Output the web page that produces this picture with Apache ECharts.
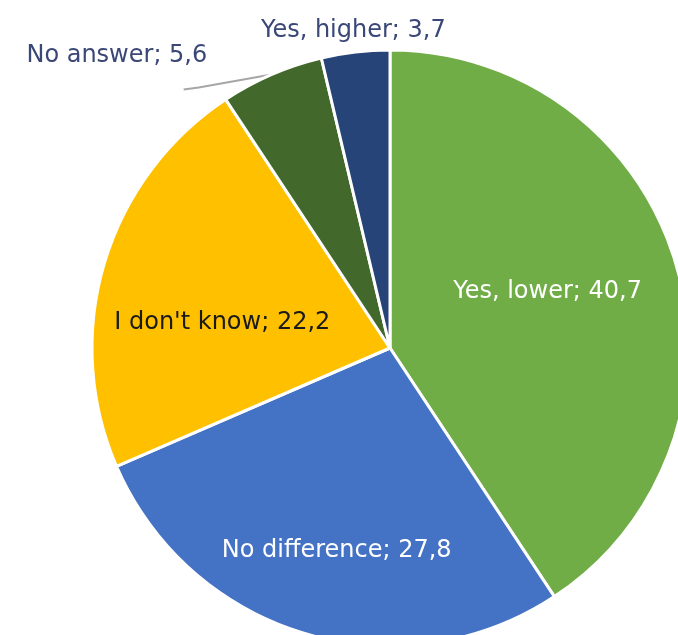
<!DOCTYPE html>
<html>
<head>
<meta charset="utf-8">
<script src="https://cdn.jsdelivr.net/npm/echarts@6/dist/echarts.min.js"></script>
<style>
  html, body { margin: 0; padding: 0; background: #fff; }
  #chart { width: 678px; height: 635px; }
</style>
</head>
<body>
<div id="chart"></div>
<script>
// answers, clockwise from 12 o'clock
const categories = ['Yes, lower', 'No difference', "I don't know", 'No answer', 'Yes, higher'];
const values = [40.7, 27.8, 22.2, 5.6, 3.7];
const colors = ['#70AD47', '#4472C4', '#FFC000', '#43682B', '#264478'];
const labelColors = ['#ffffff', '#ffffff', '#1a1a1a', '#3A4777', '#3A4777'];
const inside = [true, true, true, false, false];

const chart = echarts.init(document.getElementById('chart'));

const data = categories.map((name, i) => ({
  name,
  value: values[i],
  itemStyle: { color: colors[i] },
  label: {
    position: inside[i] ? 'inside' : 'outside',
    color: labelColors[i]
  },
  labelLine: { show: i === 3, length: 6, length2: 75, lineStyle: { color: '#a6a6a6', width: 2 } }
}));

// nudge labels a bit to where excel put them
const nudges = [[12, -12], [-10, 57], [-22, 18], [18, -13], [171, -15]];

chart.setOption({
  backgroundColor: '#fff',
  animation: false,
  series: [{
    type: 'pie',
    center: [390, 348],
    radius: 298,
    startAngle: 90,
    clockwise: true,
    avoidLabelOverlap: false,
    itemStyle: { borderColor: '#fff', borderWidth: 3 },
    label: {
      fontFamily: '"DejaVu Sans", sans-serif',
      fontSize: 24,
      formatter: p => p.name + '; ' + String(p.value).replace('.', ',')
    },
    labelLayout: p => {
      const out = { dx: nudges[p.dataIndex][0], dy: nudges[p.dataIndex][1] };
      // the "No answer" leader line bends down-left under its label
      if (p.dataIndex === 3 && p.labelLinePoints) {
        const s = p.labelLinePoints[0];
        out.labelLinePoints = [s, [s[0] - 73, s[1] + 13], [s[0] - 88, s[1] + 15]];
      }
      return out;
    },
    data
  }]
});
</script>
</body>
</html>
